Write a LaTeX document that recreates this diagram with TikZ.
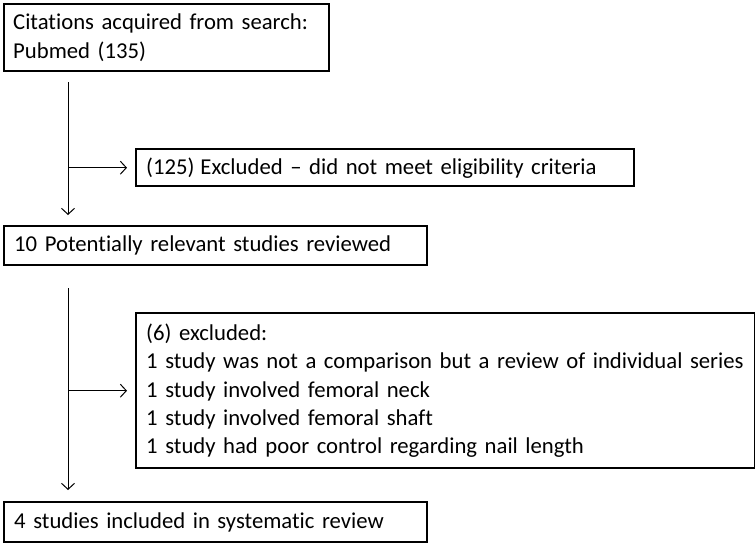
\documentclass[tikz,border=0pt]{standalone}
\usepackage{fontspec}
\newfontfamily\cfont{Carlito}[RawFeature={-liga;-clig}]
\newcommand\boxfontsel{\cfont\fontsize{22.7}{28.3}\selectfont}
\usetikzlibrary{arrows.meta}
\tikzset{
  box/.style={draw, line width=2.4pt, anchor=north west, align=left,
    inner xsep=10pt, inner ysep=0pt, font=\boxfontsel},
  flow/.style={line width=1pt, -{Straight Barb[length=6pt,width=13pt]}}
}
\begin{document}
\begin{tikzpicture}[x=1pt,y=1pt]
\useasboundingbox (0,0) rectangle (755,-542);
\node[box, inner xsep=9pt, text width=307pt, minimum height=67pt] (b1) at (3,-3)
  {\mbox{Citations acquired from search:}\\Pubmed (135)};
\node[box, text width=478pt, minimum height=37pt] (b2) at (135,-148)
  {\mbox{(125)\hspace{6pt}Excluded – did not meet eligibility criteria}};
\node[box, text width=403pt, minimum height=39pt] (b3) at (3,-225)
  {10 Potentially relevant studies reviewed};
\node[box, text width=599pt, minimum height=155pt] (b4) at (135,-312)
  {(6) excluded:\\
   \mbox{1 study was not a comparison but a review of individual series}\\
   1 study involved femoral neck\\
   1 study involved femoral shaft\\
   1 study had poor control regarding nail length};
\node[box, text width=403pt, minimum height=40pt] (b5) at (3,-501)
  {4 studies included in systematic review};

\coordinate (s1) at (68,-82);
\coordinate (j1) at (s1 |- b2.west);
\coordinate (s2) at (68,-288);
\coordinate (j2) at (s2 |- b4.west);

\draw[flow, shorten >=10pt] (s1) -- (s1 |- b3.north);
\draw[flow, shorten >=8pt] (j1) -- (b2.west);
\draw[flow, shorten >=11pt] (s2) -- (s2 |- b5.north);
\draw[flow, shorten >=8pt] (j2) -- (b4.west);
\end{tikzpicture}
\end{document}
